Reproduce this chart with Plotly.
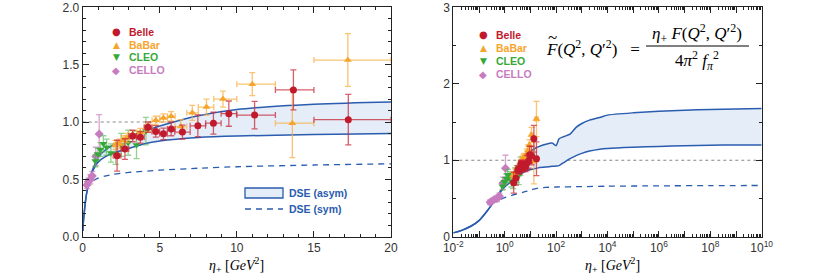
import plotly.graph_objects as go

# ---------------- data ----------------
# Belle
belle_x = [2.23, 2.74, 3.24, 3.74, 4.24, 4.74, 5.24, 5.74, 6.47, 7.47, 8.48, 9.48, 11.15, 13.67, 17.23]
belle_y = [0.706, 0.764, 0.878, 0.866, 0.955, 0.918, 0.897, 0.94, 0.912, 0.967, 0.99, 1.073, 1.06, 1.28, 1.02]
belle_ey = [0.135, 0.09, 0.05, 0.05, 0.045, 0.05, 0.05, 0.06, 0.06, 0.095, 0.095, 0.11, 0.12, 0.175, 0.22]
belle_exm = [0.25, 0.25, 0.25, 0.25, 0.25, 0.25, 0.25, 0.25, 0.5, 0.5, 0.5, 0.5, 1.15, 1.17, 2.23]
belle_exp = [0.25, 0.25, 0.25, 0.25, 0.25, 0.25, 0.25, 0.25, 0.5, 0.5, 0.5, 0.5, 1.35, 1.33, 2.77]

# BaBar
babar_x = [2.12, 2.37, 2.62, 2.87, 3.24, 3.74, 4.24, 4.74, 5.24, 5.74, 6.36, 7.11, 8.03, 9.1, 11.0, 13.6, 17.2]
babar_y = [0.80, 0.81, 0.84, 0.86, 0.89, 0.91, 0.95, 1.015, 1.035, 1.05, 0.96, 1.08, 1.13, 1.20, 1.33, 0.99, 1.54]
babar_ey = [0.04, 0.04, 0.04, 0.04, 0.035, 0.035, 0.035, 0.035, 0.035, 0.04, 0.06, 0.065, 0.07, 0.07, 0.10, 0.30, 0.23]
babar_exm = [0.12, 0.13, 0.12, 0.12, 0.24, 0.24, 0.24, 0.24, 0.24, 0.24, 0.36, 0.36, 0.53, 0.6, 1.0, 1.1, 2.2]
babar_exp = [0.13, 0.13, 0.13, 0.13, 0.26, 0.26, 0.26, 0.26, 0.26, 0.26, 0.39, 0.39, 0.47, 0.9, 1.5, 1.4, 2.8]

# CLEO
cleo_x = [0.82, 0.98, 1.15, 1.34, 1.55, 1.83, 2.14, 2.50, 2.95, 3.49, 4.10]
cleo_y = [0.66, 0.72, 0.76, 0.81, 0.78, 0.73, 0.72, 0.80, 0.82, 0.80, 0.92]
cleo_ey = [0.05, 0.05, 0.06, 0.07, 0.07, 0.08, 0.09, 0.10, 0.11, 0.12, 0.12]

# CELLO
cello_x = [0.27, 0.37, 0.50, 0.62, 0.85, 1.07]
cello_y = [0.45, 0.48, 0.50, 0.53, 0.70, 0.895]
cello_ey = [0.03, 0.03, 0.04, 0.04, 0.08, 0.17]

# DSE curves
eta_grid = [0.01, 0.02, 0.05, 0.1, 0.2, 0.3, 0.5, 0.75, 1, 1.5, 2, 3, 4, 5, 7.5, 10, 15, 20,
            40, 70, 100, 130, 200, 350, 600, 1e3, 2e3, 5e3, 1e4, 1e5, 1e6, 1e7, 1e8, 1e9, 1e10]
dse_upper = [0.05, 0.08, 0.14, 0.21, 0.33, 0.41, 0.53, 0.62, 0.69, 0.76, 0.80, 0.87, 0.92, 0.965, 1.055, 1.11, 1.155, 1.175,
             1.21, 1.225, 1.19, 1.28, 1.31, 1.34, 1.43, 1.48, 1.525, 1.56, 1.59, 1.62, 1.64, 1.655, 1.665, 1.67, 1.675]
dse_lower = [0.05, 0.08, 0.14, 0.21, 0.33, 0.41, 0.52, 0.60, 0.65, 0.70, 0.73, 0.77, 0.81, 0.835, 0.865, 0.878, 0.89, 0.90,
             0.91, 0.92, 0.925, 0.93, 0.97, 1.02, 1.06, 1.09, 1.12, 1.145, 1.155, 1.17, 1.18, 1.19, 1.195, 1.2, 1.2]
sym_eta = [0.7, 1, 1.5, 2, 3, 5, 7.5, 10, 15, 20, 40, 100, 1e3, 1e4, 1e6, 1e8, 1e10]
dse_sym = [0.49, 0.51, 0.53, 0.545, 0.56, 0.58, 0.597, 0.61, 0.625, 0.635, 0.645, 0.65, 0.655, 0.66, 0.665, 0.668, 0.67]

ref_level = 1.0

left_xticks = [0, 5, 10, 15, 20]
left_yticks = [0.0, 0.5, 1.0, 1.5, 2.0]
right_xtick_exp = list(range(-2, 11))
right_yticks = [0, 1, 2, 3]

# ---------------- styles ----------------
C_BELLE, E_BELLE = "#c21a2d", "rgba(200,40,55,0.75)"
C_BABAR, E_BABAR = "#f6a52c", "rgba(248,175,70,0.75)"
C_CLEO, E_CLEO = "#36a83a", "rgba(70,180,70,0.6)"
C_CELLO, E_CELLO = "#c77cbf", "rgba(200,125,190,0.7)"
C_DSE = "#2a5caf"
FILL_DSE = "#e4edf8"

fig = go.Figure()


def add_data(xa, ya):
    fig.add_trace(go.Scatter(x=cello_x, y=cello_y, mode="markers", xaxis=xa, yaxis=ya,
                             marker=dict(symbol="diamond", size=7, color=C_CELLO),
                             error_y=dict(type="data", array=cello_ey, color=E_CELLO, thickness=1.3, width=3),
                             showlegend=False))
    fig.add_trace(go.Scatter(x=cleo_x, y=cleo_y, mode="markers", xaxis=xa, yaxis=ya,
                             marker=dict(symbol="triangle-down", size=7, color=C_CLEO),
                             error_y=dict(type="data", array=cleo_ey, color=E_CLEO, thickness=1.3, width=3),
                             showlegend=False))
    fig.add_trace(go.Scatter(x=babar_x, y=babar_y, mode="markers", xaxis=xa, yaxis=ya,
                             marker=dict(symbol="triangle-up", size=7, color=C_BABAR),
                             error_y=dict(type="data", array=babar_ey, color=E_BABAR, thickness=1.3, width=3),
                             error_x=dict(type="data", array=babar_exp, arrayminus=babar_exm, color=E_BABAR,
                                          thickness=1.3, width=3),
                             showlegend=False))
    fig.add_trace(go.Scatter(x=belle_x, y=belle_y, mode="markers", xaxis=xa, yaxis=ya,
                             marker=dict(symbol="circle", size=7, color=C_BELLE),
                             error_y=dict(type="data", array=belle_ey, color=E_BELLE, thickness=1.3, width=3),
                             error_x=dict(type="data", array=belle_exp, arrayminus=belle_exm, color=E_BELLE,
                                          thickness=1.3, width=3),
                             showlegend=False))


def add_curves(xa, ya):
    fig.add_trace(go.Scatter(x=eta_grid, y=dse_lower, mode="lines", xaxis=xa, yaxis=ya,
                             line=dict(color=C_DSE, width=1.5, shape="spline", smoothing=0.6),
                             showlegend=False))
    fig.add_trace(go.Scatter(x=eta_grid, y=dse_upper, mode="lines", xaxis=xa, yaxis=ya,
                             fill="tonexty", fillcolor=FILL_DSE,
                             line=dict(color=C_DSE, width=1.5, shape="spline", smoothing=0.6),
                             showlegend=False))
    fig.add_trace(go.Scatter(x=sym_eta, y=dse_sym, mode="lines", xaxis=xa, yaxis=ya,
                             line=dict(color=C_DSE, width=1.3, dash="6px,5px", shape="spline", smoothing=0.6),
                             showlegend=False))


add_curves("x", "y")
add_data("x", "y")
add_curves("x2", "y2")
add_data("x2", "y2")

# reference dotted line
for xr, yr in (("x domain", "y"), ("x2 domain", "y2")):
    fig.add_shape(type="line", xref=xr, yref=yr, x0=0, x1=1, y0=ref_level, y1=ref_level,
                  line=dict(color="#888888", width=1.2, dash="dot"), layer="below")

W, H = 830, 279
Lx0, Lx1, Rx0, Rx1 = 82.7, 391.0, 453.3, 761.7
Yt, Yb = 7.3, 236.7
axis_font = dict(family="Liberation Sans, Arial", size=12, color="#333333")
common = dict(showline=True, linecolor="#222222", linewidth=1, mirror="allticks", ticks="inside",
              ticklen=6, tickcolor="#222222", showgrid=False, zeroline=False, tickfont=axis_font,
              automargin=False)

fig.update_layout(
    width=W, height=H, margin=dict(l=0, r=0, t=0, b=0, pad=0, autoexpand=False),
    paper_bgcolor="white", plot_bgcolor="white", showlegend=False,
    xaxis=dict(domain=[Lx0 / W, Lx1 / W], range=[0, 20], tickvals=left_xticks,
               minor=dict(dtick=1, ticklen=3, ticks="inside", tickcolor="#222222"), anchor="y", **common),
    yaxis=dict(domain=[1 - Yb / H, 1 - Yt / H], range=[0, 2], tickvals=left_yticks,
               ticktext=[f"{v:.1f}" for v in left_yticks],
               minor=dict(dtick=0.1, ticklen=3, ticks="inside", tickcolor="#222222"), anchor="x", **common),
    xaxis2=dict(domain=[Rx0 / W, Rx1 / W], type="log", range=[-2, 10],
                tickvals=[10.0 ** e for e in right_xtick_exp],
                ticktext=[(f"10<sup>{e}</sup>" if e % 2 == 0 else "") for e in right_xtick_exp],
                minor=dict(dtick="D1", ticklen=3, ticks="inside", tickcolor="#222222"), anchor="y2", **common),
    yaxis2=dict(domain=[1 - Yb / H, 1 - Yt / H], range=[0, 3], tickvals=right_yticks,
                minor=dict(dtick=0.5, ticklen=3, ticks="inside", tickcolor="#222222"), anchor="x2", **common),
)

ann = []


def px(x, y, text, xanchor="left", size=11, color="#000", family="Liberation Sans, Arial"):
    ann.append(dict(x=x / W, y=1 - y / H, xref="paper", yref="paper", text=text, showarrow=False,
                    xanchor=xanchor, yanchor="middle", font=dict(size=size, color=color, family=family)))


legend_items = [("Belle", "●", C_BELLE, 10), ("BaBar", "▲", C_BABAR, 9), ("CLEO", "▼", C_CLEO, 9), ("CELLO", "◆", C_CELLO, 10)]
for i, (name, glyph, col, gs) in enumerate(legend_items):
    y = 31.7 + i * 12.8
    px(116, y, glyph, xanchor="center", size=gs, color=col, family="DejaVu Sans")
    px(127, y, f"<b>{name}</b>", size=10.5, color=col)
    y2 = 35 + i * 13
    px(483, y2, glyph, xanchor="center", size=gs, color=col, family="DejaVu Sans")
    px(494, y2, f"<b>{name}</b>", size=10.5, color=col)

# DSE legend (left panel)
fig.add_shape(type="rect", xref="paper", yref="paper", x0=245 / W, x1=283 / W, y0=1 - 198 / H, y1=1 - 188 / H,
              line=dict(color=C_DSE, width=1.3), fillcolor=FILL_DSE)
fig.add_shape(type="line", xref="paper", yref="paper", x0=245 / W, x1=283 / W, y0=1 - 209 / H, y1=1 - 209 / H,
              line=dict(color=C_DSE, width=1.3, dash="6px,5px"))
px(287, 193, "<b>DSE (asym)</b>", size=10.5, color=C_DSE)
px(287, 209, "<b>DSE (sym)</b>", size=10.5, color=C_DSE)

# axis titles
serif = "Liberation Serif, DejaVu Serif, serif"
xt = "<i>η</i><sub>+</sub> [<i>GeV</i><sup>2</sup>]"
px((Lx0 + Lx1) / 2, 265, xt, xanchor="center", size=14, family=serif)
px((Rx0 + Rx1) / 2 + 5, 265, xt, xanchor="center", size=14, family=serif)

# formula
px(544, 48, "<i>F</i>(<i>Q</i><sup>2</sup>, <i>Q</i>′<sup>2</sup>)&nbsp;&nbsp;&nbsp;=", xanchor="left", size=17, family=serif)
px(552, 38, "~", xanchor="center", size=17, family=serif)
px(697, 33, "<i>η</i><sub>+</sub> <i>F</i>(<i>Q</i><sup>2</sup>, <i>Q</i>′<sup>2</sup>)", xanchor="center", size=17, family=serif)
px(697, 61, "4<i>π</i><sup>2</sup> <i>f</i><sub><i>π</i></sub><sup>2</sup>", xanchor="center", size=17, family=serif)
fig.add_shape(type="line", xref="paper", yref="paper", x0=646 / W, x1=749 / W, y0=1 - 46 / H, y1=1 - 46 / H,
              line=dict(color="#000", width=1))

fig.update_layout(annotations=ann)
fig.write_html("out.html", config={"displayModeBar": False},
               post_script="document.body.style.margin='0';document.body.style.padding='0';")
